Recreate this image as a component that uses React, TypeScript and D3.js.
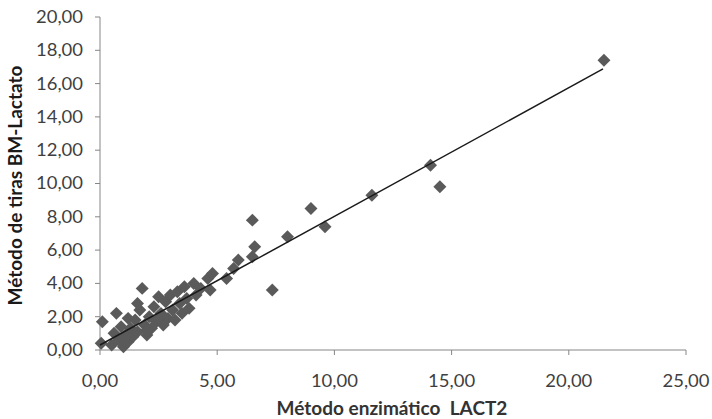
import React from 'react'
import * as d3 from 'd3'

// Método enzimático LACT2 (x) vs Método de tiras BM-Lactato (y)
const enzX = [
  0.05, 0.1, 0.7, 0.5, 0.8, 1.0, 1.1, 1.2, 1.3, 1.4, 1.5, 1.6, 1.7, 1.8, 1.6, 1.9, 2.0, 2.1, 2.2,
  2.3, 2.4, 2.5, 2.6, 2.7, 2.8, 2.9, 3.0, 3.1, 3.2, 3.3, 3.4, 3.5, 3.6, 3.7, 3.8, 4.0, 4.1, 4.3,
  4.6, 4.7, 4.8, 5.4, 5.7, 5.9, 6.5, 6.6, 6.5, 7.35, 8.0, 9.0, 9.6, 11.6, 14.1, 14.5, 21.5,
  0.9, 1.2, 0.6, 1.0, 2.0, 2.5,
]
const tiraY = [
  0.4, 1.7, 2.2, 0.3, 0.6, 0.2, 0.9, 0.5, 1.3, 0.8, 1.8, 1.1, 2.4, 3.7, 2.8, 1.5, 0.9, 2.0, 1.3,
  2.6, 1.7, 3.2, 2.2, 1.5, 2.9, 1.9, 3.3, 2.4, 1.8, 3.5, 2.8, 2.2, 3.8, 3.1, 2.5, 4.0, 3.3, 3.7,
  4.3, 3.6, 4.6, 4.3, 4.9, 5.4, 5.6, 6.2, 7.8, 3.6, 6.8, 8.5, 7.4, 9.3, 11.1, 9.8, 17.4,
  1.4, 1.9, 1.0, 0.6, 1.2, 1.9,
]

// linear trendline endpoints
const trendX = [0, 21.46]
const trendY = [0.3, 16.88]

const xTicks = [0, 5, 10, 15, 20, 25]
const yTicks = [0, 2, 4, 6, 8, 10, 12, 14, 16, 18, 20]

const fmt = (v: number) => v.toFixed(2).replace('.', ',')

export default function App() {
  const width = 712
  const height = 419
  const margin = { top: 17, right: 26, bottom: 69, left: 100 }

  const x = d3.scaleLinear().domain([0, 25]).range([margin.left, width - margin.right])
  const y = d3.scaleLinear().domain([0, 20]).range([height - margin.bottom, margin.top])

  const diamond = d3.symbol().type(d3.symbolSquare).size(84)()
  const trend = d3.line<number>().x((d) => x(d)).y((_, i) => y(trendY[i]))(trendX)

  const axisColor = '#868686'
  const textColor = '#3f3f3f'
  const font = 'Lato, "Open Sans", sans-serif'

  return (
    <svg width={width} height={height} style={{ position: 'absolute', left: 0, top: 0, background: '#fff' }}>
      {/* y axis */}
      <line x1={x(0)} x2={x(0)} y1={y(0)} y2={y(20)} stroke={axisColor} />
      {yTicks.map((t) => (
        <g key={'y' + t}>
          <line x1={x(0) - 5} x2={x(0)} y1={y(t)} y2={y(t)} stroke={axisColor} />
          <text
            transform={`translate(${x(0) - 17},${y(t)}) scale(1.12,1)`}
            dy="0.36em"
            textAnchor="end"
            fontSize={16.5}
            fill={textColor}
            fontFamily={font}
          >
            {fmt(t)}
          </text>
        </g>
      ))}
      {/* x axis */}
      <line x1={x(0)} x2={x(25)} y1={y(0)} y2={y(0)} stroke={axisColor} />
      {xTicks.map((t) => (
        <g key={'x' + t}>
          <line x1={x(t)} x2={x(t)} y1={y(0)} y2={y(0) + 5} stroke={axisColor} />
          <text
            transform={`translate(${x(t)},${y(0) + 37}) scale(1.12,1)`}
            textAnchor="middle"
            fontSize={16.5}
            fill={textColor}
            fontFamily={font}
          >
            {fmt(t)}
          </text>
        </g>
      ))}

      {enzX.map((v, i) => (
        <path
          key={i}
          d={diamond!}
          transform={`translate(${x(v)},${y(tiraY[i])}) rotate(45)`}
          fill="#5a5a5a"
        />
      ))}

      <path d={trend!} fill="none" stroke="#1a1a1a" strokeWidth={1.5} />

      <text
        transform={`translate(22,${(y(0) + y(20)) / 2 + 2}) rotate(-90)`}
        textAnchor="middle"
        fontSize={19}
        fontWeight="bold"
        fill="#1a1a1a"
        fontFamily={font}
      >
        Método de tiras BM-Lactato
      </text>
      <text
        x={392}
        y={415}
        textAnchor="middle"
        fontSize={19}
        fontWeight="bold"
        fill="#333"
        fontFamily={font}
        style={{ whiteSpace: 'pre' }}
      >
        Método enzimático  LACT2
      </text>
    </svg>
  )
}
